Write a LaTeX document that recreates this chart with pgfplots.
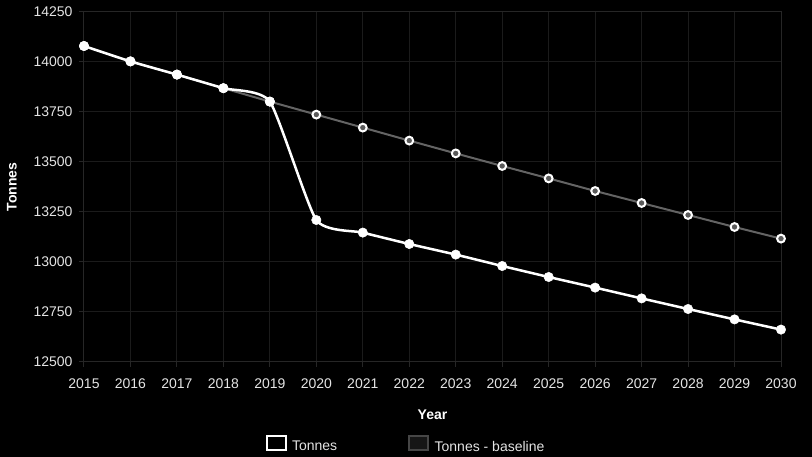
\documentclass[border=0pt]{standalone}
\usepackage{fontspec}
\setmainfont{Liberation Sans}
\usepackage{pgfplots}
\pgfplotsset{compat=1.18}
\definecolor{gridc}{RGB}{27,27,27}
\definecolor{axisc}{RGB}{38,38,38}
\definecolor{basec}{RGB}{100,100,100}
\definecolor{basefill}{RGB}{90,90,90}
\definecolor{txt}{RGB}{228,228,228}
\definecolor{legbase}{RGB}{70,70,70}
\definecolor{legbasefill}{RGB}{22,22,22}
\pgfplotstableread{
year tonnes
2015 14080
2016 14003
2017 13937
2018 13869
2019 13802
2020 13210
2021 13147
2022 13090
2023 13037
2024 12980
2025 12925
2026 12872
2027 12818
2028 12765
2029 12713
2030 12662
}\tonnes
\pgfplotstableread{
year base
2015 14080
2016 14003
2017 13937
2018 13869
2019 13802
2020 13737
2021 13672
2022 13607
2023 13543
2024 13480
2025 13418
2026 13355
2027 13295
2028 13235
2029 13175
2030 13117
}\baseline
\begin{document}
\begin{tikzpicture}
\fill[black] (-84pt,-95pt) rectangle (728pt,362pt);
\begin{axis}[
  scale only axis, width=697pt, height=350pt,
  at={(0pt,0pt)}, anchor=south west,
  xmin=2015, xmax=2030, ymin=12500, ymax=14250,
  xtick={2015,2016,...,2030}, ytick={12500,12750,...,14250},
  scaled ticks=false,
  grid=major, grid style={gridc, line width=1pt},
  axis line style={axisc, line width=1pt},
  tick align=outside, tick pos=left, major tick length=5pt,
  tick style={axisc, line width=1pt},
  /pgf/number format/1000 sep={},
  /pgf/number format/assume math mode=true,
  tick label style={font=\fontsize{14}{16}\selectfont, text=txt},
  xticklabel style={yshift=-8pt},
  yticklabel style={xshift=-3pt},
  xlabel={Year}, ylabel={Tonnes},
  label style={font=\fontsize{14}{16}\selectfont\bfseries, text=white},
  xlabel style={at={(axis description cs:0.5,-0.1514)}, anchor=center},
  ylabel style={at={(axis description cs:-0.1033,0.5)}, anchor=center},
  clip=false,
  legend columns=2,
  legend style={at={(axis description cs:0.4605,-0.2334)}, anchor=center,
    draw=none, fill=none, font=\fontsize{14}{16}\selectfont, text=txt,
    nodes={inner sep=0pt},
    /tikz/every odd column/.append style={column sep=5.5pt},
    /tikz/every even column/.append style={column sep=71pt}},
]
\addplot[basec, line width=2pt, mark=*, mark size=3.9pt,
  mark options={fill=basefill, draw=white, line width=2pt}, forget plot]
  table[x=year, y=base] {\baseline};
\addplot[white, line width=2.5pt, smooth, tension=0.33, mark=*, mark size=4.7pt,
  mark options={fill=white, draw=white, line width=0.5pt}, forget plot]
  table[x=year, y=tonnes] {\tonnes};
\addlegendimage{legend image code/.code={\draw[white, line width=2pt, fill=black] (0pt,-3pt) rectangle (19pt,11pt);}}
\addlegendentry{Tonnes}
\addlegendimage{legend image code/.code={\draw[legbase, line width=2pt, fill=legbasefill] (0pt,-3pt) rectangle (19pt,11pt);}}
\addlegendentry{Tonnes - baseline}
\end{axis}
\pgfresetboundingbox
\path[use as bounding box] (-84pt,-95pt) rectangle (728pt,362pt);
\end{tikzpicture}
\end{document}
